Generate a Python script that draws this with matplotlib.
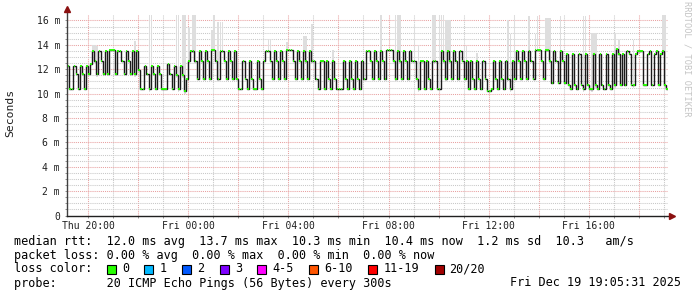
import matplotlib
matplotlib.use("Agg")
import matplotlib.pyplot as plt
from matplotlib.patches import Rectangle

W, H = 697, 297

# median rtt in ms, one value per 5 min step (24 rows = 24 hours, start Thu 19:10)
median_ms = [
    12.3, 10.35, 10.35, 12.3, 11.6, 10.35, 12.3, 11.6, 10.35, 12.3, 11.6, 12.4,
    13.5, 12.7, 11.6, 13.5, 12.7, 11.6, 13.5, 11.6, 13.6, 13.6, 13.6, 11.6,
    13.5, 13.5, 12.7, 11.6, 13.5, 12.7, 11.6, 13.5, 11.6, 13.5, 11.9, 10.35,
    10.35, 12.3, 11.6, 10.35, 12.3, 11.6, 10.35, 12.3, 11.6, 10.35, 10.35, 10.35,
    12.4, 11.6, 10.35, 12.3, 11.5, 10.35, 12.3, 11.5, 10.2, 11.2, 12.7, 13.5,
    13.5, 12.7, 11.2, 13.5, 12.7, 11.2, 13.5, 12.7, 11.2, 13.6, 13.6, 12.7,
    11.2, 13.5, 13.5, 12.7, 11.2, 13.5, 12.7, 11.2, 13.5, 11.2, 10.35, 10.35,
    12.7, 11.2, 10.35, 12.7, 11.2, 10.35, 10.35, 12.7, 11.2, 10.35, 12.7, 13.5,
    13.5, 12.7, 11.2, 13.5, 12.7, 11.2, 13.5, 12.7, 11.2, 13.6, 13.6, 13.6,
    12.7, 11.2, 13.5, 12.7, 11.2, 13.5, 12.7, 11.2, 13.5, 12.7, 12.7, 11.2,
    10.35, 12.7, 12.7, 10.35, 12.7, 11.2, 10.35, 12.7, 11.2, 10.35, 10.35, 10.35,
    12.7, 11.2, 10.35, 12.7, 11.2, 10.35, 12.7, 11.2, 10.35, 12.7, 11.2, 13.5,
    13.5, 12.7, 11.2, 13.5, 12.7, 11.2, 13.5, 12.7, 11.2, 13.6, 13.6, 13.6,
    12.7, 11.2, 13.5, 12.7, 11.2, 13.5, 12.7, 11.2, 13.5, 12.7, 12.7, 11.2,
    10.35, 12.7, 12.7, 10.35, 12.7, 11.2, 10.35, 12.7, 12.7, 10.35, 10.35, 13.5,
    12.7, 11.2, 13.5, 12.7, 11.2, 13.5, 12.7, 11.2, 13.5, 12.7, 11.2, 12.7,
    10.35, 12.7, 11.2, 10.35, 12.7, 11.2, 10.35, 12.7, 11.2, 10.25, 10.25, 10.35,
    12.7, 11.2, 10.35, 12.7, 11.2, 10.35, 12.7, 11.2, 10.35, 12.7, 11.2, 13.5,
    12.7, 11.2, 13.5, 12.7, 11.2, 13.5, 12.7, 11.2, 13.6, 13.6, 13.6, 12.7,
    11.2, 13.6, 13.6, 12.7, 10.9, 13.5, 12.7, 10.9, 13.5, 12.7, 10.9, 13.25,
    10.7, 10.35, 13.25, 10.7, 10.35, 13.25, 10.7, 10.35, 13.25, 10.7, 10.35, 10.35,
    13.25, 10.7, 10.35, 13.25, 10.7, 10.35, 13.25, 10.7, 10.35, 13.25, 10.7, 13.7,
    13.25, 10.7, 13.25, 10.7, 13.5, 13.25, 10.7, 10.7, 13.25, 13.5, 13.5, 13.5,
    10.7, 10.7, 13.25, 13.5, 10.7, 13.25, 13.5, 10.7, 13.25, 13.5, 10.7, 10.35,
]

# smoke (ping spread) that sticks out above the median
smoke_idx = [12, 13, 14, 32, 39, 40, 52, 53, 55, 56, 58, 60, 61, 69, 70, 72, 73, 74,
             96, 97, 105, 113, 114, 117, 127, 150, 157, 158, 159, 166, 168, 175, 176,
             178, 179, 180, 181, 182, 183, 190, 191, 196, 211, 212, 214, 221, 224, 225,
             229, 230, 231, 236, 247, 248, 251, 252, 253, 262, 264, 271, 274, 285, 286]
smoke_top = [14.0, 14.0, 13.9, 14.3, 16.5, 16.5, 16.5, 16.5, 16.5, 16.5, 15.4, 16.5, 16.5,
             15.2, 16.5, 15.9, 15.9, 15.9, 14.5, 14.5, 14.2, 14.75, 14.75, 15.7, 13.6,
             16.5, 16.5, 16.5, 16.5, 15.7, 14.0, 16.5, 16.5, 16.5, 16.5, 16.5, 16.0,
             16.0, 16.0, 13.9, 13.9, 13.3, 16.0, 14.9, 16.5, 16.4, 14.9, 16.4, 16.2,
             16.2, 16.2, 16.4, 16.4, 16.4, 15.0, 15.0, 15.0, 15.0, 14.4, 14.4, 13.6,
             16.5, 16.5]

start_min = 19 * 60 + 10   # Thu 19:10, minutes since Thu 00:00
step_min = 5

x_ticks = [1200, 1440, 1680, 1920, 2160, 2400]
x_labels = ["Thu 20:00", "Fri 00:00", "Fri 04:00", "Fri 08:00", "Fri 12:00", "Fri 16:00"]
y_ticks = [0, 2, 4, 6, 8, 10, 12, 14, 16]
y_labels = ["0", "2 m", "4 m", "6 m", "8 m", "10 m", "12 m", "14 m", "16 m"]

loss_labels = ["0", "1", "2", "3", "4-5", "6-10", "11-19", "20/20"]
loss_colors = ["#26ff00", "#00b8ff", "#0059ff", "#7e00ff", "#ff00ff", "#ff5500", "#ff0000", "#a10000"]

MONO = "DejaVu Sans Mono"
MAJOR = "#e8a0a0"
MINOR = "#c8c8c8"

fig = plt.figure(figsize=(W / 100, H / 100), dpi=100)
ax = fig.add_axes([67 / W, 1 - 215.5 / H, 601 / W, 200.5 / H])

t = [start_min + step_min * i for i in range(len(median_ms))]
edges = t + [t[-1] + step_min]

# smoke
for i, top in zip(smoke_idx, smoke_top):
    ax.bar(t[i], top - median_ms[i] + 0.2, bottom=median_ms[i] - 0.2, width=step_min * 0.8,
           align="edge", color="#dedede", linewidth=0, zorder=1)

# median: black steps, green (0 loss) per-sample strokes
ax.stairs(median_ms, edges, color="#1a1a1a", lw=1.0, baseline=None, zorder=3)
ax.hlines(median_ms, [v + step_min * 0.1 for v in t], [v + step_min * 0.9 for v in t],
          color=loss_colors[0], lw=1.35, zorder=4)

ax.set_xlim(1149.6, 1149.6 + 1440)
ax.set_ylim(0, 16.45)

maj_x = list(range(1200, 2590, 120))
min_x = [v for v in range(1200, 2590, 60) if v not in maj_x]
ax.set_xticks(maj_x)
ax.set_xticklabels([x_labels[x_ticks.index(v)] if v in x_ticks else "" for v in maj_x])
ax.set_xticks(min_x, minor=True)
ax.set_yticks(y_ticks)
ax.set_yticklabels(y_labels)
ax.set_yticks([v * 0.5 for v in range(33) if v % 4], minor=True)

ax.grid(which="major", color=MAJOR, lw=0.75, ls=(0, (1, 1)), zorder=0)
ax.grid(which="minor", color=MINOR, lw=0.75, ls=(0, (1, 1)), zorder=0)
ax.set_axisbelow(True)
ax.tick_params(which="both", length=1.5, width=0.7, color="#909090")
ax.tick_params(axis="y", pad=3.5, labelsize=7, labelcolor="#202020")
ax.tick_params(axis="x", pad=2.5, labelsize=7, labelcolor="#202020")
for lab in ax.get_xticklabels() + ax.get_yticklabels():
    lab.set_family(MONO)

for s in ax.spines.values():
    s.set_visible(False)
ax.plot([0, 0], [0, 1.02], transform=ax.transAxes, color="#404040", lw=1, clip_on=False, zorder=5)
ax.plot([0, 1.004], [0, 0], transform=ax.transAxes, color="#202020", lw=1, clip_on=False, zorder=5)
ax.plot([0], [1.03], marker="^", ms=4, color="#8b1010", transform=ax.transAxes, clip_on=False, zorder=6)
ax.plot([1.006], [0], marker=">", ms=4, color="#8b1010", transform=ax.transAxes, clip_on=False, zorder=6)


def fx(x):
    return x / W


def fy(y):
    return 1 - y / H


fig.text(fx(10), fy(113), "Seconds", rotation=90, ha="center", va="center",
         family=MONO, fontsize=8.2, color="#202020")
fig.text(fx(687), fy(59), "RRDTOOL / TOBI OETIKER", rotation=270, ha="center", va="center",
         family=MONO, fontsize=6.2, color="#c4c4c4")

x0 = 14
cw = 7.14
fs = 8.5
lines = [
    "median rtt:  12.0 ms avg  13.7 ms max  10.3 ms min  10.4 ms now  1.2 ms sd  10.3   am/s",
    "packet loss: 0.00 % avg  0.00 % max  0.00 % min  0.00 % now",
    "loss color:",
    "probe:       20 ICMP Echo Pings (56 Bytes) every 300s",
]
for k, s in enumerate(lines):
    fig.text(fx(x0), fy(241 + 14 * k), s, ha="left", va="center", family=MONO,
             fontsize=fs, color="#000000")
fig.text(fx(681), fy(283), "Fri Dec 19 19:05:31 2025", ha="right", va="center",
         family=MONO, fontsize=fs, color="#000000")

bx = x0 + 13 * cw
for lab, col in zip(loss_labels, loss_colors):
    fig.patches.append(Rectangle((fx(bx), fy(273.5)), 9 / W, 9 / H, transform=fig.transFigure,
                                 facecolor=col, edgecolor="#000000", lw=0.8))
    fig.text(fx(bx + 15), fy(269), lab, ha="left", va="center", family=MONO,
             fontsize=fs, color="#000000")
    bx = bx + 15 + len(lab) * cw + 15.5

fig.savefig("out.png", dpi=100, facecolor="white")
